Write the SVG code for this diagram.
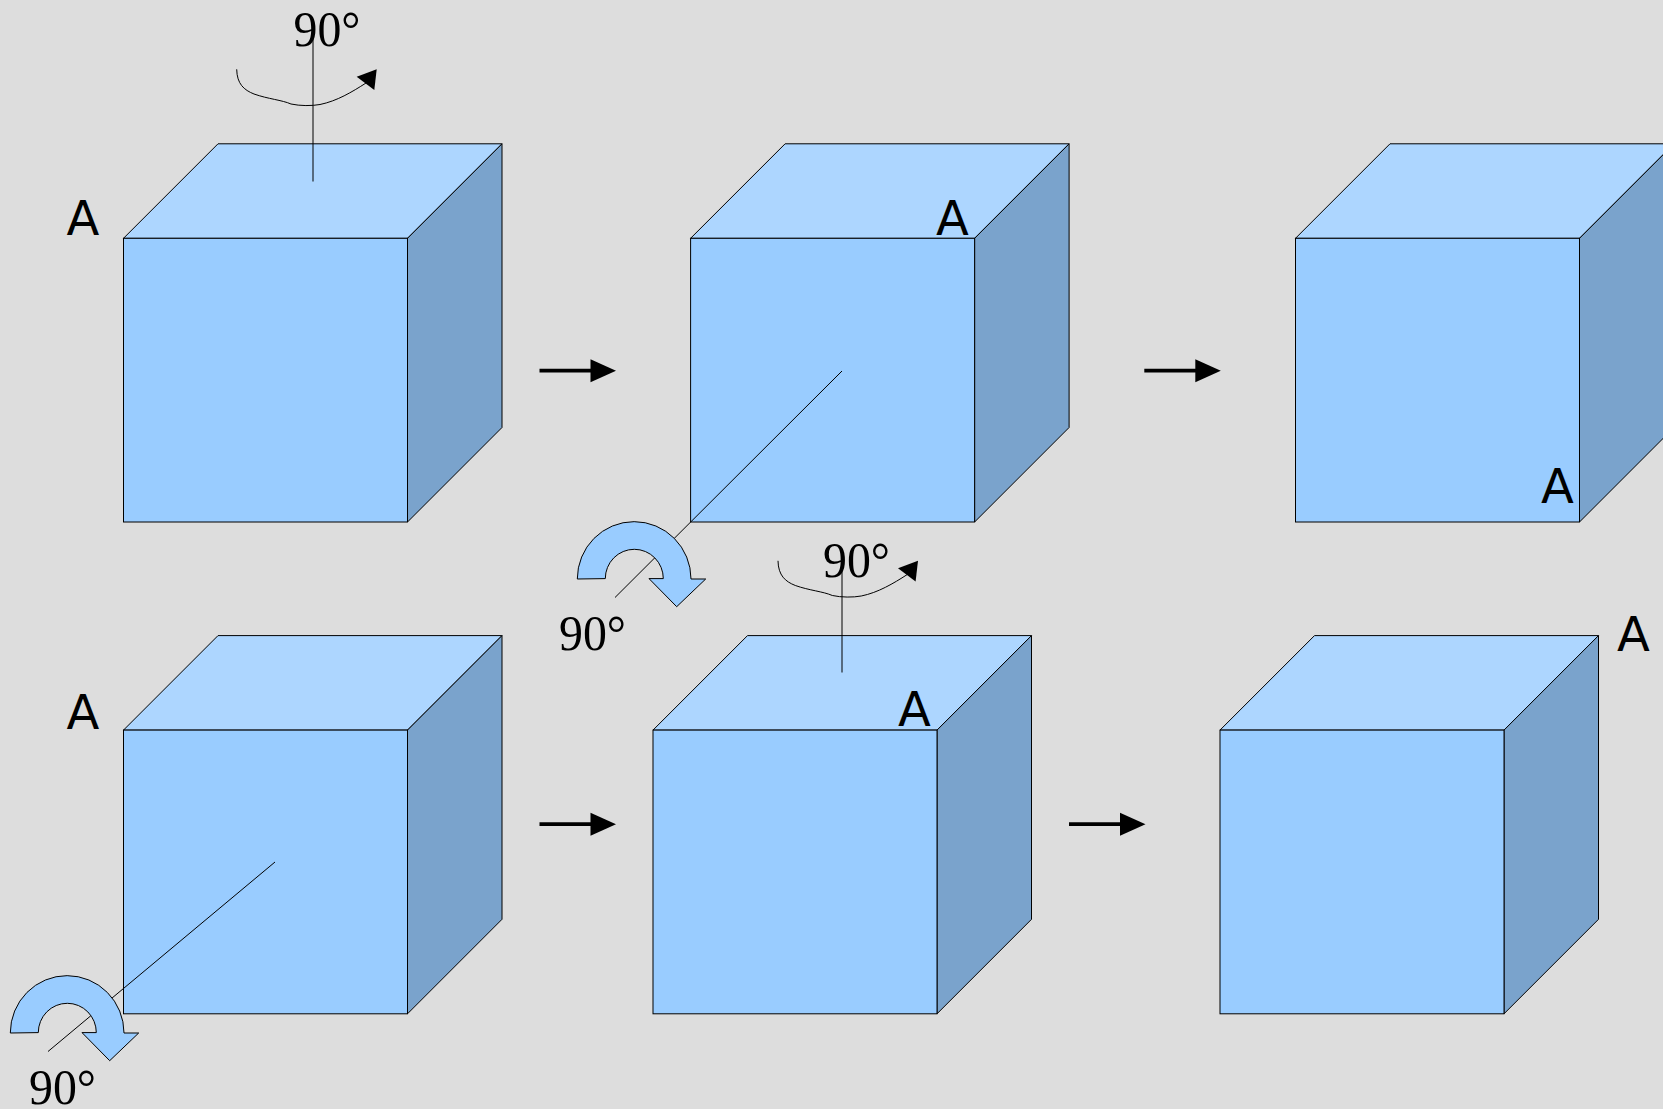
<svg xmlns="http://www.w3.org/2000/svg" width="1663" height="1109" viewBox="0 0 1663 1109">
<style>
.front{fill:#99ccff;stroke:#000;stroke-width:1}
.top{fill:#add6ff;stroke:#000;stroke-width:1}
.side{fill:#7aa3cc;stroke:#000;stroke-width:1}
.axis{fill:none;stroke:#000;stroke-width:1}
.curve{fill:none;stroke:#000;stroke-width:1}
.head{fill:#000;stroke:none}
.shaft{fill:none;stroke:#000;stroke-width:3.7}
.turn{fill:#99ccff;stroke:#000;stroke-width:1}
.deg{font-family:"Liberation Serif","Times New Roman",serif;font-size:50px;fill:#000}
.a{font-family:"DejaVu Sans",sans-serif;font-size:48px;fill:#000}
</style>
<defs>
<g id="cube">
<path class="top" d="M0 94.5L94.5 0H378.5L284 94.5Z"/>
<path class="side" d="M284 94.5L378.5 0V283.7L284 378.2Z"/>
<rect class="front" x="0" y="94.5" width="284" height="283.7"/>
</g>
<g id="move"><path class="shaft" d="M0 0H52"/><path class="head" d="M51 -11.5L76.5 0L51 11.5Z"/></g>
<g id="twist"><path class="curve" d="M0 0C0.3 14.7 7.3 20.7 17.3 24.7C31.3 29.7 45.3 30.7 54.3 34.7C63.3 36.7 75.3 36.7 83.3 35.2C100.3 31.7 115.3 22.7 129.3 13.7"/><path class="head" d="M140 0L120 7.4L137.6 20.7Z"/></g>
<path id="turnshape" class="turn" d="M577.3 579A56.8 57.3 0 0 1 691 579H705.7L676.7 606.7L649 578.6H663.3A29 29.3 0 0 0 605.3 578.6Z"/>
</defs>
<rect id="background" width="1663" height="1109" fill="#dddddd"/>
<g id="cube1" transform="translate(123.5 143.8)"><use href="#cube"/></g>
<g id="cube2" transform="translate(690.6 143.8)"><use href="#cube"/></g>
<g id="cube3" transform="translate(1295.5 143.8)"><use href="#cube"/></g>
<g id="cube4" transform="translate(123.5 635.6)"><use href="#cube"/></g>
<g id="cube5" transform="translate(653 635.6)"><use href="#cube"/></g>
<g id="cube6" transform="translate(1220 635.6)"><use href="#cube"/></g>
<g id="connectors">
<use href="#move" transform="translate(539.5 370.7)"/>
<use href="#move" transform="translate(1144.3 370.7)"/>
<use href="#move" transform="translate(539.5 824.2)"/>
<use href="#move" transform="translate(1069 824.2)"/>
<path class="axis" d="M313 36V181.5"/>
<path class="axis" d="M842 570V672.5"/>
<path class="axis" d="M842 371L615 597.5"/>
<path class="axis" d="M275 862L48 1051.5"/>
<use href="#twist" transform="translate(236.7 69.3)"/>
<use href="#twist" transform="translate(778 560.8)"/>
<use href="#turnshape"/>
<use href="#turnshape" transform="translate(-567 454)"/>
</g>
<g id="labels">
<text class="deg" x="293.5" y="45.5" textLength="67" lengthAdjust="spacingAndGlyphs">90°</text>
<text class="deg" x="823" y="577" textLength="67" lengthAdjust="spacingAndGlyphs">90°</text>
<text class="deg" x="559" y="650" textLength="67" lengthAdjust="spacingAndGlyphs">90°</text>
<text class="deg" x="29" y="1104" textLength="67" lengthAdjust="spacingAndGlyphs">90°</text>
<text class="a" x="66.5" y="234.5">A</text>
<text class="a" x="936" y="234.5">A</text>
<text class="a" x="1541" y="503">A</text>
<text class="a" x="66.5" y="729">A</text>
<text class="a" x="898" y="726">A</text>
<text class="a" x="1617" y="651">A</text>
</g>
</svg>
